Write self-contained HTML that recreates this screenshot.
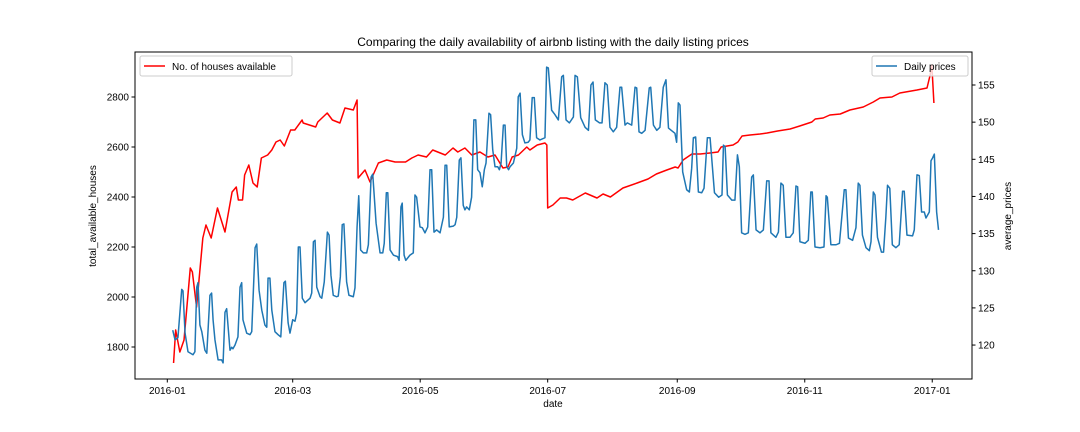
<!DOCTYPE html>
<html><head><meta charset="utf-8"><style>
html,body{margin:0;padding:0;background:#fff;}
svg{display:block;font-family:"Liberation Sans","DejaVu Sans",sans-serif;}
</style></head><body>
<svg id="chart" width="1080" height="432" viewBox="0 0 1080 432">
<rect x="0" y="0" width="1080" height="432" fill="#fff"/>
<text x="553" y="46" font-size="12" text-anchor="middle" fill="#000">Comparing the daily availability of airbnb listing with the daily listing prices</text>
<g id="marks"></g>
<rect x="135" y="52" width="837" height="327" fill="none" stroke="#000" stroke-width="1"/>
<g id="axes"></g>
<text x="553" y="407" font-size="10" text-anchor="middle">date</text>
<text transform="translate(96,216) rotate(-90)" font-size="10" text-anchor="middle">total_available_houses</text>
<text transform="translate(1011,216) rotate(-90)" font-size="10" text-anchor="middle">average_prices</text>
<g>
<rect x="140" y="56" width="152" height="20" rx="2" fill="#fff" fill-opacity="0.8" stroke="#ccc"/>
<line x1="144" y1="66" x2="165" y2="66" stroke="#ff0000" stroke-width="1.5"/>
<text x="172" y="70" font-size="10">No. of houses available</text>
</g>
<g>
<rect x="872" y="56" width="96" height="20" rx="2" fill="#fff" fill-opacity="0.8" stroke="#ccc"/>
<line x1="876" y1="66" x2="897" y2="66" stroke="#1f77b4" stroke-width="1.5"/>
<text x="904" y="70" font-size="10">Daily prices</text>
</g>
</svg>
<script>
// days since 2016-01-01
const xTickDays = [0, 60, 121, 182, 244, 305, 366];
const xTickLabels = ["2016-01","2016-03","2016-05","2016-07","2016-09","2016-11","2017-01"];
const leftTicks = [1800, 2000, 2200, 2400, 2600, 2800];
const rightTicks = [120, 125, 130, 135, 140, 145, 150, 155];

const houseDays = [3,4,6,8,11,12,14,17,18.5,21,24,27.6,31,33,34,36,37,39,41,43,45,48,50,52,54,56,59,61,64.5,65,71,72,76.5,79,82.6,85,89,90.8,91.3,94.6,97,101,105,109,114,117,120,124,127,133,136.7,139,142.4,145.7,149.6,153.4,156.8,160.6,163,165,168,172,173.5,177,180.7,181.6,182,184.5,188,191,194,200,205.6,208.5,212,218,224.8,230,234,239,243,244.4,246.8,251,255,259.6,263.5,265,270.7,273,275,278.8,283.6,287,292,298,302.6,308.4,310,313.8,317,322,326.6,333,337.8,341,346.7,350.5,358.7,363.5,365,365.8,366.8];
const houseCounts = [1736,1868,1780,1828,2116,2100,1960,2236,2288,2236,2356,2260,2420,2440,2388,2388,2488,2528,2456,2440,2556,2568,2588,2620,2628,2604,2668,2668,2708,2696,2680,2700,2736,2708,2696,2756,2748,2788,2476,2508,2460,2536,2548,2540,2540,2556,2568,2560,2588,2568,2596,2580,2596,2568,2580,2560,2568,2516,2520,2560,2568,2600,2588,2608,2616,2608,2356,2368,2396,2396,2388,2416,2396,2412,2400,2436,2456,2472,2492,2508,2520,2516,2548,2572,2572,2576,2580,2600,2608,2620,2644,2648,2652,2656,2664,2672,2684,2700,2712,2716,2728,2732,2748,2760,2780,2796,2800,2816,2828,2836,2888,2928,2776];

const priceDays = [2.6,3.7,5.1,6.9,7.5,8.5,9.9,12.3,13.2,14.1,14.7,15.6,16.5,18,18.9,20.4,21.2,21.9,22.8,24.3,26,26.7,27.6,28.4,30,30.8,31.4,32.4,33.8,34.8,35.6,36.2,38,39.6,40.4,42,42.8,43.9,45.2,46.7,47.6,48.2,49.1,50,51.5,53,54.3,55.8,56.5,57.8,58.7,60,61.1,61.9,62.7,63.5,64.6,65.9,68.3,69.1,69.9,70.7,71.5,73.1,73.9,75.1,76.6,77.4,78.3,79.4,81,81.8,82.8,83.7,84.5,85.8,86.9,89,89.8,90.8,91.6,92.5,93.8,95.4,96.2,97.5,98.3,99.9,101.8,103.1,103.8,104.8,105.5,106.6,108.2,110.2,110.9,111.8,112.4,113.3,114.1,116.1,117.7,118.5,119.3,120.9,122,123.3,124.6,125.7,126.5,127.6,128.9,130.5,132.1,132.9,133.7,134.9,136.8,137.7,138.5,139.7,140.5,141.6,142.4,143.2,144.5,145.6,146.7,147.6,148.5,149.6,150.7,151.7,152.5,153.9,154.7,155.7,156.8,158.1,158.9,159.7,160.8,161.6,162.4,163.3,164,165.6,167.2,167.9,168.8,169.9,171.1,172.7,173.5,174.6,175.6,176.7,178.3,180.7,181.5,182.3,183.9,185.5,187.1,188.7,189.5,190.8,192.4,194.3,195.1,196.2,197.8,199.9,201.5,202.7,203.7,204.8,206.8,208,209.4,210.5,211.8,213.4,215,216.6,217.4,219,220.1,222.2,223.8,224.6,225.7,227,228.6,230.6,231.3,232.6,234.2,235.7,237.3,238.6,239.8,241.1,242.9,243.7,244.5,245.3,246.6,248.5,249.8,250.9,251.7,252.8,254.1,255.7,256.8,258.4,259.7,261.8,263.8,265.4,266.1,266.9,268,270.1,271.6,272.8,273.7,274.8,276.4,278,279.6,280.4,281.7,283.6,285.2,286.8,287.9,288.8,291.2,292.4,293.6,294.7,296,297.9,299.5,300.8,301.6,302.7,305.1,306.7,307.9,308.6,309.9,312.3,314.2,315.2,315.8,317.5,320,321.6,323.9,324.7,325.9,327.9,329.5,330.6,331.4,332.6,334.3,335.9,336.7,337.8,338.6,339.8,341.7,342.7,343.8,344.6,345.7,346.9,348.6,350.2,351.8,352.6,353.9,356.6,357.4,358.7,359.8,360.9,362.2,363,364.6,365.4,366.2,367,368.1,369];
const dailyPrices = [122.0,120.7,121.0,127.5,127.3,121.6,119.1,118.7,119.1,127.8,128.4,122.7,121.8,119.3,118.9,126.7,127.0,123.4,120.7,118.0,118.0,117.6,124.4,124.9,119.3,119.7,119.5,120.0,121.1,127.8,128.4,123.4,121.6,121.4,121.8,133.1,133.6,127.4,124.7,122.7,122.4,129.0,129.0,124.7,121.8,121.4,121.1,128.4,128.6,123.0,121.6,123.4,123.2,124.3,133.2,133.2,126.3,125.7,126.3,127.0,133.9,134.1,127.8,126.5,126.3,128.5,135.2,134.8,129.4,126.7,126.5,126.6,129.2,136.2,136.3,128.5,126.7,126.5,127.7,135.9,140.1,132.8,132.4,132.4,133.5,142.6,143.0,136.4,132.4,132.4,133.7,140.5,140.5,132.8,132.1,131.9,131.4,138.6,139.1,132.1,131.4,132.1,132.4,140.2,139.9,135.9,135.8,135.1,135.9,143.6,143.6,135.2,135.5,135.1,137.2,144.2,144.2,135.9,136.0,136.2,137.2,144.9,145.2,138.8,138.2,138.6,138.2,139.9,150.3,150.3,143.6,143.2,141.3,143.6,144.5,151.2,151.0,146.3,144.0,144.0,143.6,144.5,149.6,149.6,144.0,143.6,144.0,144.5,146.5,153.4,153.9,148.3,147.2,147.3,147.6,153.3,153.3,147.9,147.6,147.9,157.4,157.3,151.6,151.0,150.3,156.1,156.3,150.3,149.9,150.7,156.3,156.1,150.6,149.3,148.9,155.0,155.4,150.3,149.9,149.9,155.3,155.0,149.3,148.7,149.3,154.7,154.7,149.6,149.9,149.6,154.7,154.6,148.7,148.5,148.9,154.6,154.7,149.6,148.9,149.3,154.7,155.7,149.2,148.9,148.5,147.3,152.6,152.3,143.3,140.9,140.6,143.8,147.9,148.0,140.6,140.5,141.1,147.9,147.9,140.5,139.9,140.2,146.9,146.7,140.2,139.5,139.5,145.6,144.0,135.1,134.9,135.1,142.6,142.9,135.5,135.1,135.5,142.1,142.1,135.1,134.5,135.2,141.8,141.5,134.5,134.5,135.1,141.4,141.3,133.9,133.7,134.1,140.6,140.6,133.2,133.1,133.2,140.1,139.9,133.5,133.5,133.7,140.9,140.9,134.4,134.1,135.8,141.8,141.5,134.8,133.1,132.7,133.9,140.6,140.2,134.5,132.5,132.5,137.2,141.5,141.1,133.5,133.1,133.5,140.7,140.7,134.8,134.7,135.5,142.9,142.8,137.9,137.9,137.1,137.9,144.8,145.2,145.7,137.9,135.5];

const NS = "http://www.w3.org/2000/svg";
function xScale(d){ return 167.3 + d * 2.09; }
function yLeft(v){ return 97 + (2800 - v) * 0.25; }
function yRight(v){ return 85 + (155 - v) * 7.43; }

const marks = document.getElementById('marks');
const axes = document.getElementById('axes');

function buildPath(xs, ys, fx, fy){
  let d = '';
  for (let i = 0; i < xs.length; i++) d += (i ? 'L' : 'M') + fx(xs[i]).toFixed(2) + ',' + fy(ys[i]).toFixed(2);
  return d;
}

const redPath = document.createElementNS(NS, 'path');
redPath.setAttribute('d', buildPath(houseDays, houseCounts, xScale, yLeft));
redPath.setAttribute('fill', 'none');
redPath.setAttribute('stroke', '#ff0000');
redPath.setAttribute('stroke-width', '1.5');
redPath.setAttribute('stroke-linejoin', 'round');


marks.appendChild(redPath);

const bluePath = document.createElementNS(NS, 'path');
bluePath.setAttribute('d', buildPath(priceDays, dailyPrices, xScale, yRight));
bluePath.setAttribute('fill', 'none');
bluePath.setAttribute('stroke', '#1f77b4');
bluePath.setAttribute('stroke-width', '1.5');
bluePath.setAttribute('stroke-linejoin', 'round');


marks.appendChild(bluePath);

function addLine(x1,y1,x2,y2){
  const l = document.createElementNS(NS,'line');
  l.setAttribute('x1',x1); l.setAttribute('y1',y1); l.setAttribute('x2',x2); l.setAttribute('y2',y2);
  l.setAttribute('stroke','#000'); l.setAttribute('stroke-width','1');
  axes.appendChild(l);
  return l;
}
function addText(x,y,s,anchor){
  const t = document.createElementNS(NS,'text');
  t.setAttribute('x',x); t.setAttribute('y',y); t.setAttribute('font-size','10');
  t.setAttribute('text-anchor',anchor); t.textContent = s;
  axes.appendChild(t);
  return t;
}
xTickDays.forEach((d,i)=>{
  const x = xScale(d);
  const tk = addLine(x,379,x,382.5);
  
  
  const lb = addText(x,394,xTickLabels[i],'middle');
  
  
});
leftTicks.forEach(v=>{
  const y = yLeft(v);
  const tk = addLine(131.5,y,135,y);
  
  
  const lb = addText(129,y+3.5,String(v),'end');
  
  
});
rightTicks.forEach(v=>{
  const y = yRight(v);
  const tk = addLine(972,y,975.5,y);
  
  
  const lb = addText(978,y+3.5,String(v),'start');
  
  
});
</script>
</body></html>
